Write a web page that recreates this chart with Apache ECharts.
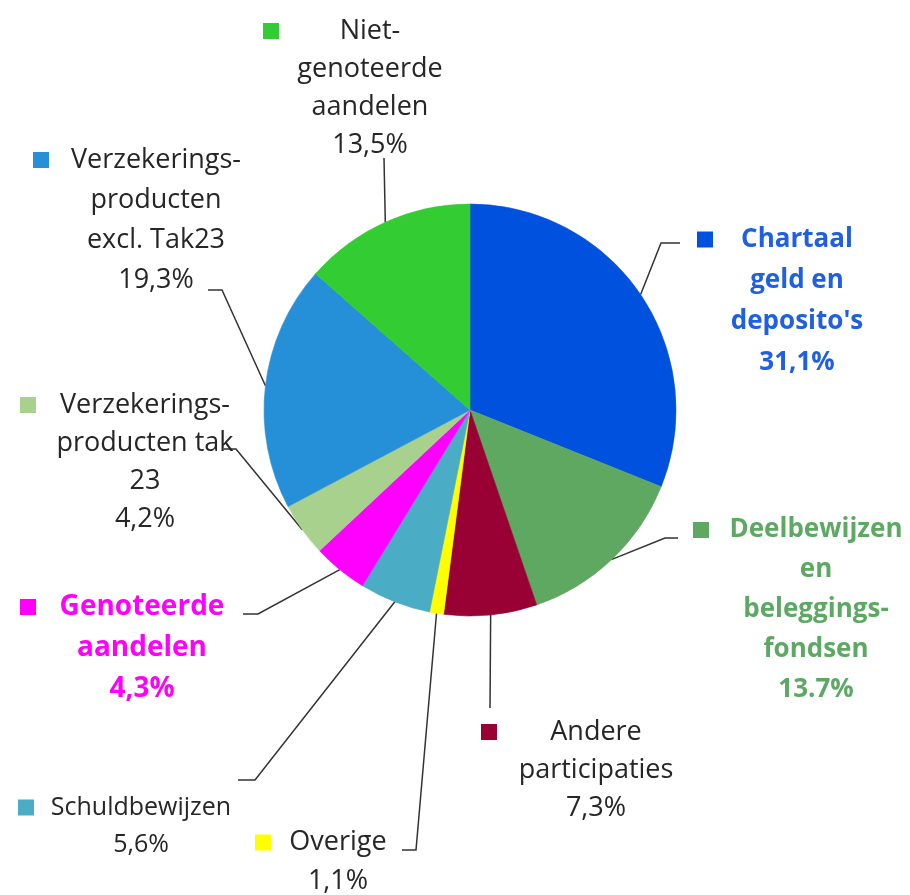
<!DOCTYPE html>
<html>
<head>
<meta charset="utf-8">
<title>Verdeling financieel vermogen</title>
<script src="https://cdn.jsdelivr.net/npm/echarts@6/dist/echarts.min.js"></script>
<style>
html, body { margin: 0; padding: 0; background: #fff; }
#chart { width: 910px; height: 895px; }
</style>
</head>
<body>
<div id="chart"></div>
<script>
// data, clockwise from 12 o'clock
const categories = [
  'Chartaal geld en deposito\'s',
  'Deelbewijzen en beleggingsfondsen',
  'Andere participaties',
  'Overige',
  'Schuldbewijzen',
  'Genoteerde aandelen',
  'Verzekeringsproducten tak 23',
  'Verzekeringsproducten excl. Tak23',
  'Niet-genoteerde aandelen'
];
const labelText = [
  ['Chartaal', 'geld en', 'deposito\'s'],
  ['Deelbewijzen', 'en', 'beleggings-', 'fondsen'],
  ['Andere', 'participaties'],
  ['Overige'],
  ['Schuldbewijzen'],
  ['Genoteerde', 'aandelen'],
  ['Verzekerings-', 'producten tak', '23'],
  ['Verzekerings-', 'producten', 'excl. Tak23'],
  ['Niet-', 'genoteerde', 'aandelen']
];
const values = [31.1, 13.7, 7.3, 1.1, 5.6, 4.3, 4.2, 19.3, 13.5];
const valueLabels = ['31,1%', '13.7%', '7,3%', '1,1%', '5,6%', '4,3%', '4,2%', '19,3%', '13,5%'];

const sliceColors = ['#0052DE', '#5FA862', '#990033', '#FFFF00', '#4BACC6', '#FF00FF', '#A9D18E', '#2590D8', '#33CC33'];
const textColors = ['#1F5FE3', '#5DA862', '#262626', '#262626', '#262626', '#FF00FF', '#262626', '#262626', '#262626'];
const boldLabel = [true, true, false, false, false, true, false, false, false];
const fontSizes = [26, 26, 27, 27, 25, 28, 27, 27, 27];
const lineHeights = [41, 40, 38, 39, 37, 41, 38, 40, 38];

// label placement: text centre x, y, box width, leader line bend + end
const labelPos = [
  { x: 797, y: 301, w: 200, line: [[661, 243], [680, 243]] },
  { x: 816, y: 610, w: 246, line: [[665, 538], [678, 538]] },
  { x: 596, y: 770, w: 230, line: [[490, 708]] },
  { x: 338, y: 862, w: 166, line: [[416, 850], [402, 850]] },
  { x: 141, y: 826, w: 246, line: [[255, 780], [238, 780]] },
  { x: 142, y: 648, w: 244, line: [[258, 614], [243, 614]] },
  { x: 145, y: 462, w: 250, line: [[236, 449], [224, 449]] },
  { x: 156, y: 220, w: 246, line: [[222, 290], [208, 290]] },
  { x: 370, y: 88, w: 214, line: [[384, 158]] }
];

const chart = echarts.init(document.getElementById('chart'));

const pieData = categories.map(function (name, i) {
  const lines = labelText[i];
  let txt = '{sq|}' + lines[0] + '{pad|}';
  for (let k = 1; k < lines.length; k++) txt += '\n' + lines[k];
  txt += '\n' + valueLabels[i];
  return {
    name: name,
    value: values[i],
    // border in the same colour hides the anti-alias seams between slices
    itemStyle: { color: sliceColors[i], borderColor: sliceColors[i], borderWidth: 0.6 },
    label: {
      formatter: txt,
      width: labelPos[i].w,
      align: 'center',
      color: textColors[i],
      fontFamily: 'Open Sans',
      fontWeight: boldLabel[i] ? 'bold' : 'normal',
      fontSize: fontSizes[i],
      lineHeight: lineHeights[i],
      rich: {
        sq: { width: 16, height: 16, backgroundColor: sliceColors[i], align: 'left' },
        pad: { width: 16, height: 16, align: 'right' }
      }
    }
  };
});

chart.setOption({
  animation: false,
  backgroundColor: '#ffffff',
  series: [{
    type: 'pie',
    center: [470, 410],
    radius: 206,
    startAngle: 90,
    clockwise: true,
    avoidLabelOverlap: false,
    label: { show: true, position: 'outside' },
    labelLine: { show: true, lineStyle: { color: '#333333', width: 1.5 } },
    labelLayout: function (params) {
      const p = labelPos[params.dataIndex];
      const pts = [params.labelLinePoints ? params.labelLinePoints[0] : [470, 410]].concat(p.line);
      return {
        x: p.x,
        y: p.y,
        align: 'center',
        verticalAlign: 'middle',
        labelLinePoints: pts
      };
    },
    data: pieData
  }]
});
</script>
</body>
</html>
